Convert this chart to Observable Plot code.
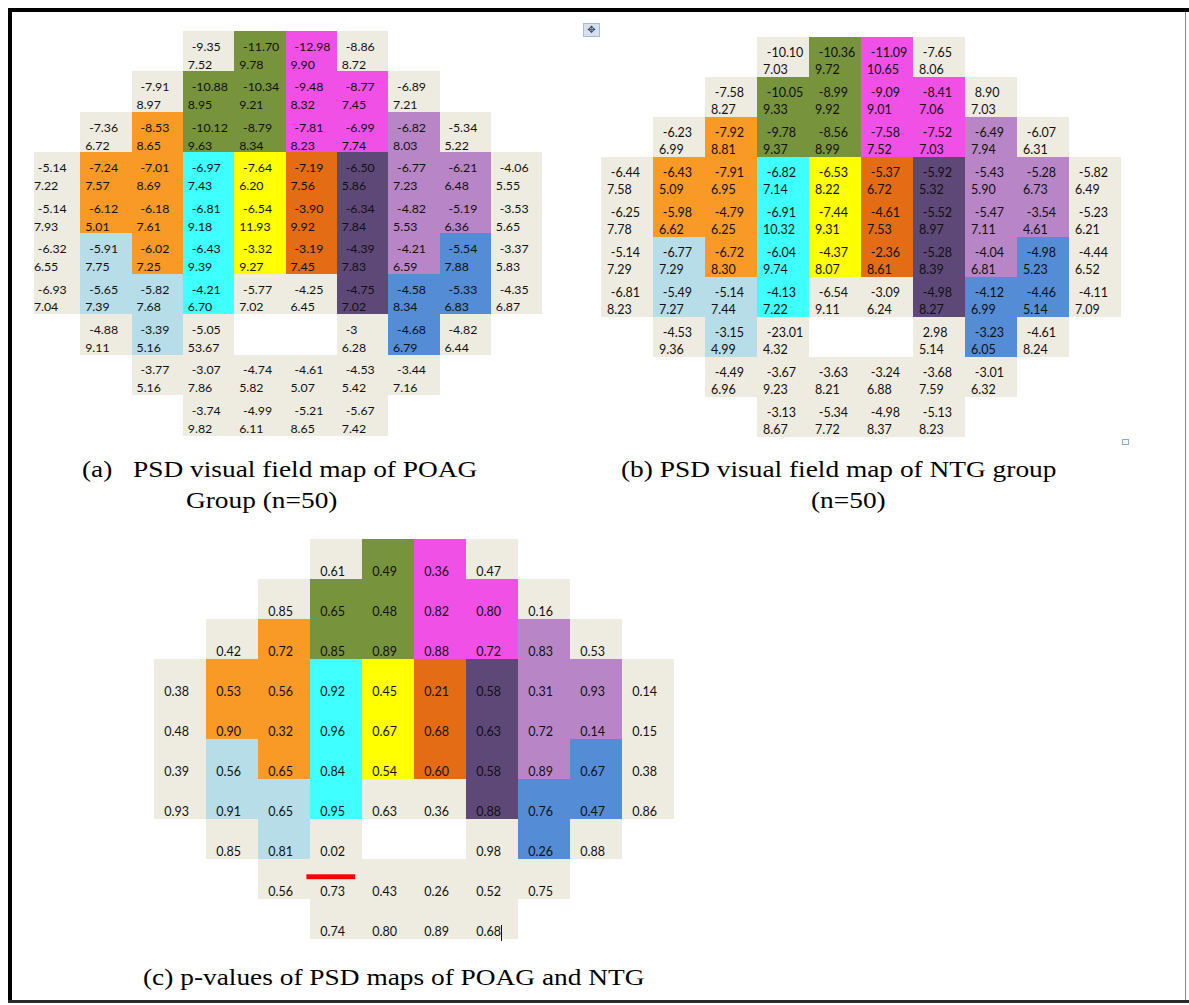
<!DOCTYPE html>
<html>
<head>
<meta charset="utf-8">
<script src="https://cdn.jsdelivr.net/npm/d3@7"></script>
<script src="https://cdn.jsdelivr.net/npm/@observablehq/plot@0.6"></script>
<style>
  html, body { margin: 0; padding: 0; background: #fff; }
  #page { position: relative; width: 1189px; height: 1005px; overflow: hidden; background: #fff; }
  .abs { position: absolute; }
  .cap { position: absolute; font-family: "Liberation Serif", "Times New Roman", serif; font-size: 24px;
         color: #000; white-space: pre; transform-origin: 0 0; transform: scaleX(1.14); line-height: 1; }
</style>
</head>
<body>
<div id="page"></div>
<script>
// ---- Region layout of the visual field (rows top→bottom, 10 columns; space = no cell) ----
const regionRows = [
  "   GOMG   ",
  "  GOOMMG  ",
  " GAOOMMLG ",
  "GAACYRPLLG",
  "GAACYRPLLG",
  "GBACYRPLDG",
  "GBBCGGPDDG",
  " GBG  GDG ",
  "  GGGGGG  ",
  "   GGGG   "
];
const regionKeys   = ["G", "O", "M", "A", "C", "Y", "R", "P", "L", "B", "D"];
const regionColors = ["#EEECE1", "#77933C", "#F150E7", "#F89A25", "#40FFFF", "#FFFF00",
                      "#E36C14", "#5E4878", "#B886C6", "#B7DDE8", "#548CD6"];

// ---- (a) POAG group: PSD mean and SD ----
const poagMean = [
  [-9.35, -11.70, -12.98, -8.86],
  [-7.91, -10.88, -10.34, -9.48, -8.77, -6.89],
  [-7.36, -8.53, -10.12, -8.79, -7.81, -6.99, -6.82, -5.34],
  [-5.14, -7.24, -7.01, -6.97, -7.64, -7.19, -6.50, -6.77, -6.21, -4.06],
  [-5.14, -6.12, -6.18, -6.81, -6.54, -3.90, -6.34, -4.82, -5.19, -3.53],
  [-6.32, -5.91, -6.02, -6.43, -3.32, -3.19, -4.39, -4.21, -5.54, -3.37],
  [-6.93, -5.65, -5.82, -4.21, -5.77, -4.25, -4.75, -4.58, -5.33, -4.35],
  [-4.88, -3.39, -5.05, -3, -4.68, -4.82],
  [-3.77, -3.07, -4.74, -4.61, -4.53, -3.44],
  [-3.74, -4.99, -5.21, -5.67]
];
const poagSD = [
  [7.52, 9.78, 9.90, 8.72],
  [8.97, 8.95, 9.21, 8.32, 7.45, 7.21],
  [6.72, 8.65, 9.63, 8.34, 8.23, 7.74, 8.03, 5.22],
  [7.22, 7.57, 8.69, 7.43, 6.20, 7.56, 5.86, 7.23, 6.48, 5.55],
  [7.93, 5.01, 7.61, 9.18, 11.93, 9.92, 7.84, 5.53, 6.36, 5.65],
  [6.55, 7.75, 7.25, 9.39, 9.27, 7.45, 7.83, 6.59, 7.88, 5.83],
  [7.04, 7.39, 7.68, 6.70, 7.02, 6.45, 7.02, 8.34, 6.83, 6.87],
  [9.11, 5.16, 53.67, 6.28, 6.79, 6.44],
  [5.16, 7.86, 5.82, 5.07, 5.42, 7.16],
  [9.82, 6.11, 8.65, 7.42]
];

// ---- (b) NTG group: PSD mean and SD ----
const ntgMean = [
  [-10.10, -10.36, -11.09, -7.65],
  [-7.58, -10.05, -8.99, -9.09, -8.41, 8.90],
  [-6.23, -7.92, -9.78, -8.56, -7.58, -7.52, -6.49, -6.07],
  [-6.44, -6.43, -7.91, -6.82, -6.53, -5.37, -5.92, -5.43, -5.28, -5.82],
  [-6.25, -5.98, -4.79, -6.91, -7.44, -4.61, -5.52, -5.47, -3.54, -5.23],
  [-5.14, -6.77, -6.72, -6.04, -4.37, -2.36, -5.28, -4.04, -4.98, -4.44],
  [-6.81, -5.49, -5.14, -4.13, -6.54, -3.09, -4.98, -4.12, -4.46, -4.11],
  [-4.53, -3.15, -23.01, 2.98, -3.23, -4.61],
  [-4.49, -3.67, -3.63, -3.24, -3.68, -3.01],
  [-3.13, -5.34, -4.98, -5.13]
];
const ntgSD = [
  [7.03, 9.72, 10.65, 8.06],
  [8.27, 9.33, 9.92, 9.01, 7.06, 7.03],
  [6.99, 8.81, 9.37, 8.99, 7.52, 7.03, 7.94, 6.31],
  [7.58, 5.09, 6.95, 7.14, 8.22, 6.72, 5.32, 5.90, 6.73, 6.49],
  [7.78, 6.62, 6.25, 10.32, 9.31, 7.53, 8.97, 7.11, 4.61, 6.21],
  [7.29, 7.29, 8.30, 9.74, 8.07, 8.61, 8.39, 6.81, 5.23, 6.52],
  [8.23, 7.27, 7.44, 7.22, 9.11, 6.24, 8.27, 6.99, 5.14, 7.09],
  [9.36, 4.99, 4.32, 5.14, 6.05, 8.24],
  [6.96, 9.23, 8.21, 6.88, 7.59, 6.32],
  [8.67, 7.72, 8.37, 8.23]
];

// ---- (c) p-values POAG vs NTG ----
const pValues = [
  [0.61, 0.49, 0.36, 0.47],
  [0.85, 0.65, 0.48, 0.82, 0.80, 0.16],
  [0.42, 0.72, 0.85, 0.89, 0.88, 0.72, 0.83, 0.53],
  [0.38, 0.53, 0.56, 0.92, 0.45, 0.21, 0.58, 0.31, 0.93, 0.14],
  [0.48, 0.90, 0.32, 0.96, 0.67, 0.68, 0.63, 0.72, 0.14, 0.15],
  [0.39, 0.56, 0.65, 0.84, 0.54, 0.60, 0.58, 0.89, 0.67, 0.38],
  [0.93, 0.91, 0.65, 0.95, 0.63, 0.36, 0.88, 0.76, 0.47, 0.86],
  [0.85, 0.81, 0.02, 0.98, 0.26, 0.88],
  [0.56, 0.73, 0.43, 0.26, 0.52, 0.75],
  [0.74, 0.80, 0.89, 0.68]
];

const captions = {
  aLabel: "(a)", aLine1: "PSD visual field map of POAG", aLine2: "Group (n=50)",
  bLine1: "(b) PSD visual field map of NTG group", bLine2: "(n=50)",
  c: "(c) p-values of PSD maps of POAG and NTG"
};

// ---------------------------------------------------------------------------
const fmt = v => Number.isInteger(v) ? String(v) : v.toFixed(2);

function panelData(firstRows, secondRows) {
  const out = [];
  regionRows.forEach((codes, r) => {
    let k = 0;
    [...codes].forEach((code, c) => {
      if (code === " ") return;
      out.push({row: r, col: c, region: code,
                v1: firstRows[r][k], v2: secondRows ? secondRows[r][k] : null});
      k++;
    });
  });
  return out;
}

const FONT = "Lato, 'Open Sans', sans-serif";
const TXT = "#111";

function basePlot(cw, rh, marks) {
  return Plot.plot({
    width: Math.round(10 * cw),
    height: Math.round(10 * rh),
    margin: 0,
    x: {type: "band", domain: d3.range(10), padding: 0, axis: null},
    y: {type: "band", domain: d3.range(10), padding: 0, axis: null},
    color: {type: "ordinal", domain: regionKeys, range: regionColors},
    style: {background: "transparent", overflow: "visible"},
    marks
  });
}

function twoLinePanel(data, cw, rh, o) {
  return basePlot(cw, rh, [
    Plot.cell(data, {x: "col", y: "row", fill: "region", inset: 0, shapeRendering: "crispEdges"}),
    Plot.text(data, {x: "col", y: "row", text: d => fmt(d.v1), textAnchor: "start",
      dx: -cw / 2 + o.x1, dy: o.y1 - rh / 2, fontSize: 12.5, fontFamily: FONT, fill: TXT}),
    Plot.text(data, {x: "col", y: "row", text: d => fmt(d.v2), textAnchor: "start",
      dx: -cw / 2 + o.x2, dy: o.y2 - rh / 2, fontSize: 12.5, fontFamily: FONT, fill: TXT})
  ]);
}

const page = document.getElementById("page");
function place(el, left, top) {
  el.style.position = "absolute";
  el.style.left = left + "px";
  el.style.top = top + "px";
  return el;
}
function addDiv(cls, text, left, top, css) {
  const d = document.createElement("div");
  d.className = cls;
  if (text != null) d.textContent = text;
  d.style.left = left + "px";
  d.style.top = top + "px";
  if (css) Object.assign(d.style, css);
  page.appendChild(d);
  return d;
}

// ---- Panel (a) ----
{
  const cw = 52.1, rh = 41.9;
  const svg = twoLinePanel(panelData(poagMean, poagSD), cw, rh, {x1: 8.5, y1: 16, x2: 4.5, y2: 34.2});
  const wrap = document.createElement("div");
  Object.assign(wrap.style, {position: "absolute", left: "34.3px", top: "26px",
    width: (Math.round(10 * cw) - 6.8) + "px", height: Math.round(10 * rh) + "px", overflow: "hidden"});
  place(svg, -6.8, 0);
  wrap.appendChild(svg);
  page.appendChild(wrap);
}

// ---- Panel (b) ----
{
  const cw = 52.1, rh = 40.3;
  const svg = twoLinePanel(panelData(ntgMean, ntgSD), cw, rh, {x1: 9.3, y1: 15.6, x2: 5.5, y2: 32.4});
  page.appendChild(place(svg, 600, 35));
}

// ---- Panel (c) ----
{
  const cw = 52.6, rh = 40.5;
  const data = panelData(pValues, null);
  const significant = data.filter(d => d.v1 < 0.05);
  const svg = basePlot(cw, rh, [
    Plot.cell(data, {x: "col", y: "row", fill: "region", inset: 0, shapeRendering: "crispEdges"}),
    Plot.text(data, {x: "col", y: "row", text: d => fmt(d.v1), textAnchor: "start",
      dx: -cw / 2 + 10, dy: 32.5 - rh / 2, fontSize: 12.5, fontFamily: FONT, fill: TXT}),
    // red underline below the significant p-value
    Plot.cell(significant, {x: "col", y: d => d.row + 1, fill: "#FF0000",
      insetTop: 15.3, insetBottom: 19.8, insetLeft: -3.6, insetRight: 6.8})
  ]);
  page.appendChild(place(svg, 151.4, 535.7));
}

// ---- Captions ----
addDiv("cap", captions.aLabel, 82.3, 457.3);
addDiv("cap", captions.aLine1, 132.8, 457.3);
addDiv("cap", captions.aLine2, 186.4, 488.2);
addDiv("cap", captions.bLine1, 620.8, 457.3);
addDiv("cap", captions.bLine2, 811, 487.5);
addDiv("cap", captions.c, 142.5, 965.2);

// ---- Frame and editor artefacts ----
addDiv("abs", null, 8, 8, {width: "1181px", height: "4px", background: "#000"});
addDiv("abs", null, 8, 8, {width: "4px", height: "995px", background: "#000"});
addDiv("abs", null, 8, 1000, {width: "1181px", height: "3px", background: "#2a2a2a"});
addDiv("abs", null, 1185, 12, {width: "1px", height: "988px", background: "#8a8a8a"});
// text cursor after last p-value
addDiv("abs", null, 501, 925, {width: "1.3px", height: "16px", background: "#111"});
// move handle
addDiv("abs", "✥", 583, 23, {width: "15px", height: "12px", background: "#d6e0f1",
  border: "1px solid #a9bad8", fontFamily: "DejaVu Sans", fontSize: "10px", lineHeight: "12px",
  textAlign: "center", color: "#3a4a66"});
// resize handle
addDiv("abs", null, 1122, 439, {width: "5px", height: "4px", border: "1.5px solid #8ea8d9", background: "#f4f7fd"});
</script>
</body>
</html>
